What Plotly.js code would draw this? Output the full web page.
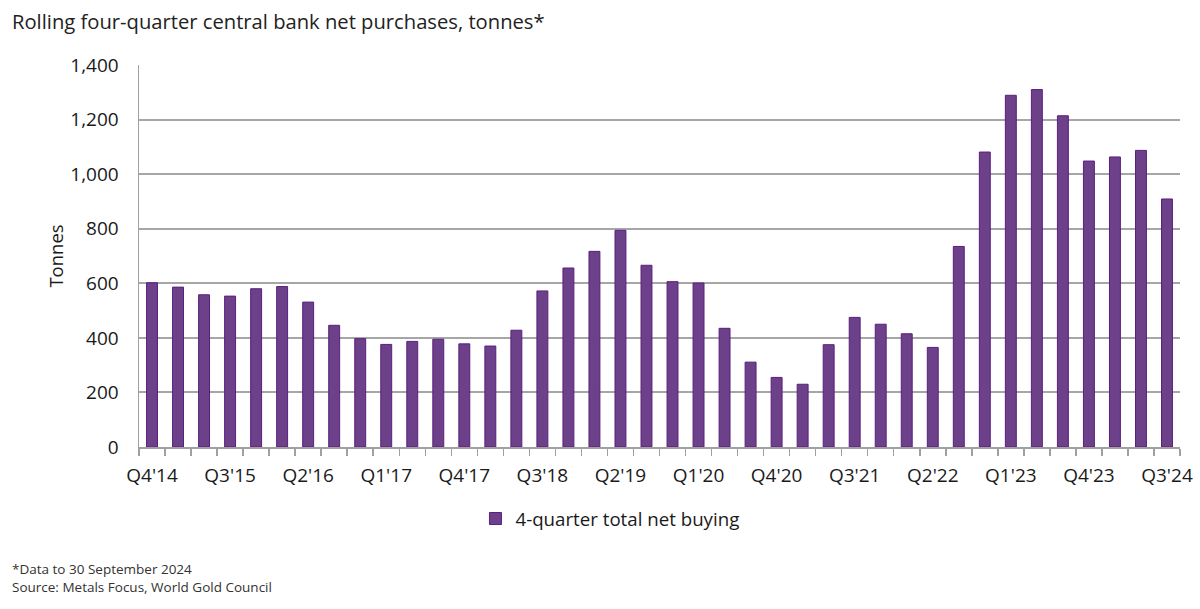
<!DOCTYPE html>
<html>
<head>
<meta charset="utf-8">
<script src="https://cdn.plot.ly/plotly-3.0.1.min.js"></script>
<style>
html,body{margin:0;padding:0;background:#fff;}
#chart{width:1200px;height:609px;}
</style>
</head>
<body>
<div id="chart"></div>
<script>
const quarters = ["Q4'14","Q1'15","Q2'15","Q3'15","Q4'15","Q1'16","Q2'16","Q3'16","Q4'16","Q1'17",
  "Q2'17","Q3'17","Q4'17","Q1'18","Q2'18","Q3'18","Q4'18","Q1'19","Q2'19","Q3'19",
  "Q4'19","Q1'20","Q2'20","Q3'20","Q4'20","Q1'21","Q2'21","Q3'21","Q4'21","Q1'22",
  "Q2'22","Q3'22","Q4'22","Q1'23","Q2'23","Q3'23","Q4'23","Q1'24","Q2'24","Q3'24"];
const netBuying = [602,586,558,553,580,588,531,446,397,376,
  387,395,378,370,428,572,656,717,794,666,
  606,601,435,311,255,230,375,475,450,415,
  365,735,1081,1289,1310,1214,1048,1063,1087,909];
const labelEvery = 3;
const yTicks = [0,200,400,600,800,1000,1200,1400];

const idx = quarters.map((q,i)=>i);
const tickVals = idx.filter(i => i % labelEvery === 0);
const tickText = tickVals.map(i => quarters[i]);

const trace = {
  type:'bar', x: idx, y: netBuying, name:'4-quarter total net buying',
  width:0.42,
  marker:{color:'#6c4189', line:{color:'#5b1f7e', width:1}},
  hovertext: quarters
};

const layout = {
  width:1200, height:609,
  margin:{l:139, r:20, t:65, b:162},
  paper_bgcolor:'#fff', plot_bgcolor:'#fff',
  font:{family:'"Open Sans", "Noto Sans", sans-serif', color:'#1a1a1a', size:19},
  title:{text:'Rolling four-quarter central bank net purchases, tonnes*',
    xref:'container', yref:'container', x:0.01, xanchor:'left', y:0.975, yanchor:'top',
    font:{size:20.2, color:'#222'}},
  bargap:0.5,
  showlegend:true,
  legend:{orientation:'h', x:0.5083, xanchor:'center', xref:'container', y:0.148, yref:'container', yanchor:'middle',
    font:{size:18.7}, itemwidth:20},
  xaxis:{
    range:[-0.5, quarters.length-0.5], tickmode:'array', tickvals:tickVals, ticktext:tickText,
    ticks:'', showgrid:false, zeroline:false, showline:true, linecolor:'#a0a0a0', linewidth:2,
    tickfont:{size:19}, ticklabelstandoff:10, fixedrange:true,
    minor:{tickmode:'linear', tick0:-0.5, dtick:1, ticks:'outside', ticklen:7, tickcolor:'#a0a0a0', tickwidth:1.5, showgrid:false}
  },
  yaxis:{
    range:[0,1400], tickmode:'array', tickvals:yTicks, tickformat:',d',
    showgrid:true, gridcolor:'#a6a6a6', gridwidth:2, zeroline:false,
    showline:true, linecolor:'#a0a0a0', linewidth:1.5, ticks:'', ticklen:0,
    tickfont:{size:19}, ticklabelstandoff:15,
    title:{text:'Tonnes', font:{size:18.5}, standoff:2}
  },
  annotations:[
    {text:'*Data to 30 September 2024<br>Source: Metals Focus, World Gold Council',
     xref:'paper', yref:'paper', x:0, y:0, xanchor:'left', yanchor:'top', align:'left', showarrow:false,
     font:{size:13.5, color:'#333'}, xshift:-129, yshift:-111}
  ]
};

Plotly.newPlot('chart',[trace],layout,{displayModeBar:false, staticPlot:true});
</script>
</body>
</html>
